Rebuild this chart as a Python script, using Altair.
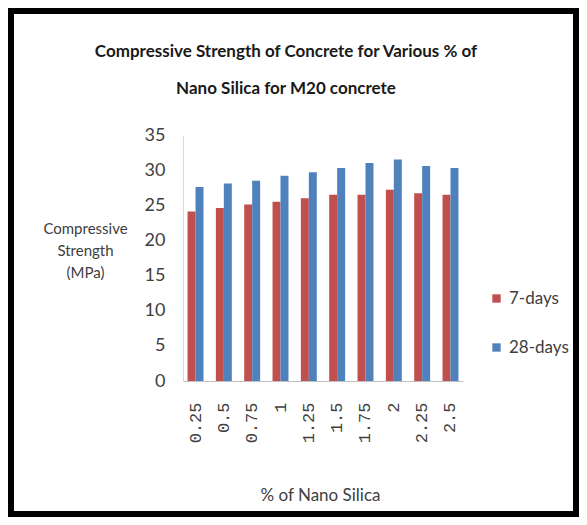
import altair as alt
import pandas as pd

categories = ["0.25", "0.5", "0.75", "1", "1.25", "1.5", "1.75", "2", "2.25", "2.5"]
seven_days = [24.1, 24.6, 25.1, 25.5, 26.0, 26.5, 26.5, 27.2, 26.7, 26.5]
twenty_eight_days = [27.6, 28.1, 28.5, 29.2, 29.7, 30.3, 31.0, 31.5, 30.6, 30.3]
series_names = ["7-days", "28-days"]
colors = ["#C0504D", "#4F81BD"]

rows = []
for c, a, b in zip(categories, seven_days, twenty_eight_days):
    rows.append({"pct": c, "series": series_names[0], "value": a})
    rows.append({"pct": c, "series": series_names[1], "value": b})
df = pd.DataFrame(rows)

FONT = "Lato"

bars = alt.Chart(df).mark_bar().encode(
    x=alt.X("pct:N", sort=categories,
            scale=alt.Scale(paddingInner=0.437, paddingOuter=0.16),
            axis=alt.Axis(title="% of Nano Silica", labelAngle=-90, labelFont="Liberation Mono",
                          labelFontSize=17, labelColor="#404040", labelPadding=21, ticks=False,
                          domainColor="#BFBFBF", titleFont=FONT, titleFontSize=17,
                          titleFontWeight="normal", titleColor="#404040",
                          titleBaseline="middle", titleY=114, titleX=137)),
    xOffset=alt.XOffset("series:N", sort=series_names),
    y=alt.Y("value:Q", scale=alt.Scale(domain=[0, 35], nice=False),
            axis=alt.Axis(title=["Compressive", "Strength", "(MPa)"], values=[0, 5, 10, 15, 20, 25, 30, 35],
                          grid=False, ticks=False, labelPadding=18, labelFont=FONT, labelFontSize=18,
                          labelColor="#404040", domainColor="#D9D9D9",
                          titleAngle=0, titleAlign="center", titleBaseline="middle",
                          titleX=-98, titleY=93, titleFont=FONT, titleFontSize=15,
                          titleFontWeight="normal", titleColor="#404040", titleLineHeight=22)),
    color=alt.Color("series:N", sort=series_names,
                    scale=alt.Scale(domain=series_names, range=colors),
                    legend=alt.Legend(title=None, orient="none", legendX=305, legendY=155,
                                      symbolType="square", symbolSize=70, labelFont=FONT,
                                      labelFontSize=17, labelColor="#404040", rowPadding=31,
                                      symbolStrokeWidth=0)),
)

frame = alt.Chart(pd.DataFrame({"a": [0]})).mark_rect(
    fill=None, stroke="black", strokeWidth=6, clip=False
).encode(
    x=alt.value(-172), x2=alt.value(393), y=alt.value(-124), y2=alt.value(379)
)

chart = alt.layer(bars, frame).properties(
    width=280, height=246,
    autosize=alt.AutoSizeParams(type="none"),
    padding={"left": 175, "right": 116, "top": 127, "bottom": 136},
    title=alt.TitleParams(
        text=["Compressive Strength of Concrete for Various % of", "Nano Silica for M20 concrete"],
        font=FONT, fontSize=17, fontWeight="bold", color="#1A1A1A", lineHeight=37,
        anchor="middle", dx=-37, offset=0, dy=90,
    ),
).configure_view(stroke=None)

chart.save("out.html", embed_options={"renderer": "svg", "actions": False})
